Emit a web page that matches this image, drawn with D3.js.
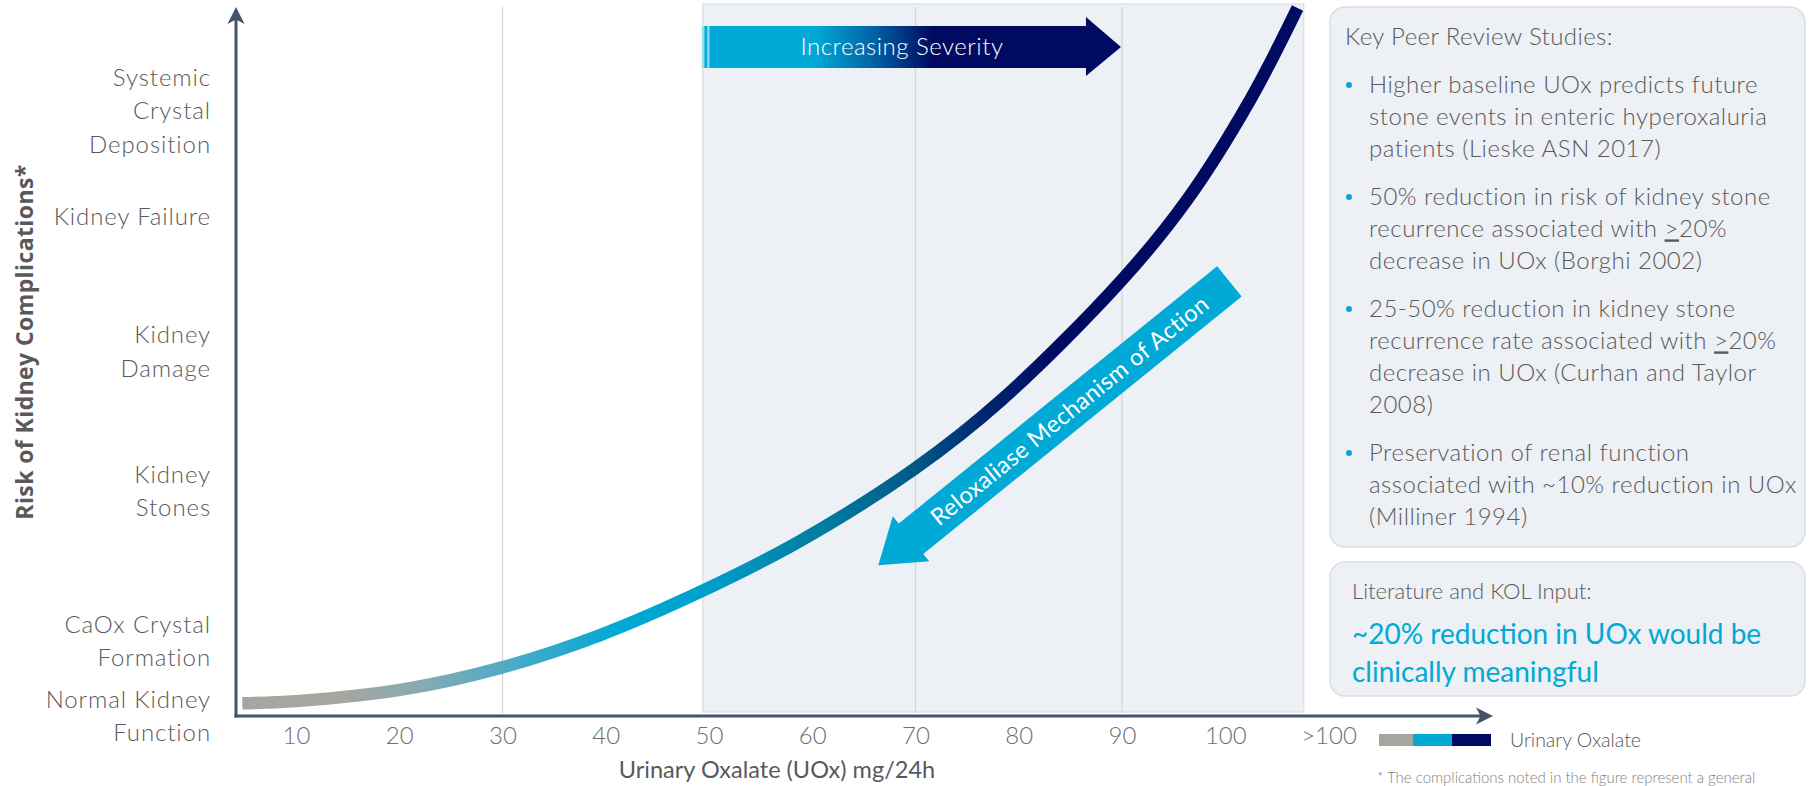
<!DOCTYPE html>
<html><head><meta charset="utf-8">
<script src="https://cdn.jsdelivr.net/npm/d3@7"></script>
<style>
html,body{margin:0;padding:0;background:#fff;overflow:hidden;}
svg{display:block;}
</style></head><body>
<svg id="chart" width="1810" height="786"></svg>
<script>
// ---------- data ----------
const xTickValues = [10,20,30,40,50,60,70,80,90,100,110];
const xTickLabels = ["10","20","30","40","50","60","70","80","90","100",">100"];
const gridValues = [30,70,90];
const severityBand = [49.4,107.6];
const severityArrow = [49.3,89.9];
const curveUOx  = [4.8, 10, 20.5, 29.8, 39.4, 49.4, 58.8, 69.9, 78.3, 90, 96.3, 102.4, 107];
const curveRisk = [1.8, 2.1, 3.8, 6.8, 11.4, 17.7, 24.7, 34.9, 44.6, 61.6, 72.9, 87.0, 100];
const riskLabels = [["Systemic","Crystal","Deposition"],["Kidney Failure"],["Kidney","Damage"],["Kidney","Stones"],["CaOx Crystal","Formation"],["Normal Kidney","Function"]];
const riskLabelLevels = [85.5,70.5,51.5,31.8,10.6,0];
const moaTail = [100.4, 61.4];
const moaTip  = [66.4, 21.3];
const legendColors = ["#A6A6A0","#00A9D6","#000A60"];
const studies = [
  ["Higher baseline UOx predicts future","stone events in enteric hyperoxaluria","patients (Lieske ASN 2017)"],
  ["50% reduction in risk of kidney stone","recurrence associated with |>|20%","decrease in UOx (Borghi 2002)"],
  ["25-50% reduction in kidney stone","recurrence rate associated with |>|20%","decrease in UOx (Curhan and Taylor","2008)"],
  ["Preservation of renal function","associated with ~10% reduction in UOx","(Milliner 1994)"]
];
const kolLines = ["~20% reduction in UOx would be","clinically meaningful"];

// ---------- setup ----------
const svg = d3.select("#chart");
const FONT = "Lato, 'Open Sans', sans-serif";
const axisColor = "#44546A";
const cyan = "#00A9D6", navy = "#000A60", gray = "#A6A6A0";
const x = d3.scaleLinear().domain([10,90]).range([296,1122]);
const y = d3.scaleLinear().domain([0,100]).range([716,8]);
const defs = svg.append("defs");

// severity band
svg.append("rect")
  .attr("x", x(severityBand[0])).attr("y", 4)
  .attr("width", x(severityBand[1]) - x(severityBand[0])).attr("height", 708)
  .attr("fill", "#EDF0F4").attr("stroke", "#DEE2E7").attr("stroke-width", 1.5);

// gridlines
svg.selectAll("line.grid").data(gridValues).enter().append("line")
  .attr("class","grid")
  .attr("x1", d => x(d)).attr("x2", d => x(d))
  .attr("y1", 7).attr("y2", 713)
  .attr("stroke", "#D2D5D9").attr("stroke-width", 1.3);

// Increasing severity arrow
const sg = defs.append("linearGradient").attr("id","sevGrad")
  .attr("gradientUnits","userSpaceOnUse")
  .attr("x1", x(severityArrow[0])).attr("x2", x(severityArrow[1])).attr("y1",0).attr("y2",0);
[[0,"#9ADCEF"],[0.006,"#9ADCEF"],[0.007,cyan],[0.012,cyan],[0.013,"#7fd3ea"],[0.018,"#7fd3ea"],[0.019,cyan],[0.27,cyan],[0.40,"#0068AA"],[0.55,navy],[1,navy]]
  .forEach(s => sg.append("stop").attr("offset", s[0]).attr("stop-color", s[1]));
{
  const x0 = x(severityArrow[0]), xt = x(severityArrow[1]), xb = xt - 35;
  const yc = 47;
  svg.append("path")
    .attr("d", `M${x0},${yc-21}L${xb},${yc-21}L${xb},${yc-30}L${xt},${yc}L${xb},${yc+29}L${xb},${yc+21}L${x0},${yc+21}Z`)
    .attr("fill","url(#sevGrad)");
  svg.append("text").attr("x", 902).attr("y", yc).attr("dy","0.35em")
    .attr("text-anchor","middle").attr("fill","#fff")
    .style("font-family",FONT).style("font-weight",300).style("font-size","24px").style("letter-spacing","0.5px")
    .text("Increasing Severity");
}

// curve
const cg = defs.append("linearGradient").attr("id","curveGrad")
  .attr("gradientUnits","userSpaceOnUse")
  .attr("x1", x(curveUOx[0])).attr("x2", x(curveUOx[curveUOx.length-1])).attr("y1",0).attr("y2",0);
[[0,gray],[0.093,gray],[0.17,"#86AAB2"],[0.244,"#55AAC4"],[0.357,cyan],[0.433,"#00A0CD"],[0.556,"#007A9F"],[0.635,"#005A8A"],[0.707,"#002470"],[0.773,navy],[1,navy]]
  .forEach(s => cg.append("stop").attr("offset", s[0]).attr("stop-color", s[1]));
const curveData = curveUOx.map((v,i) => [v, curveRisk[i]]);
svg.append("path")
  .datum(curveData)
  .attr("d", d3.line().x(d => x(d[0])).y(d => y(d[1])).curve(d3.curveCatmullRom.alpha(0.5)))
  .attr("fill","none").attr("stroke","url(#curveGrad)").attr("stroke-width",12.5).attr("stroke-linecap","butt");

// MoA arrow
{
  const tx = x(moaTail[0]), ty = y(moaTail[1]);
  const px = x(moaTip[0]), py = y(moaTip[1]);
  const len = Math.hypot(px-tx, py-ty);
  const ux = (px-tx)/len, uy = (py-ty)/len;
  const nx = -uy, ny = ux;
  const bw = 19.5, hw = 29, hl = 42;
  const bx = px - ux*hl, by = py - uy*hl;
  const pts = [
    [tx+nx*bw, ty+ny*bw],[bx+nx*bw, by+ny*bw],[bx+nx*hw, by+ny*hw],[px,py],
    [bx-nx*hw, by-ny*hw],[bx-nx*bw, by-ny*bw],[tx-nx*bw, ty-ny*bw]
  ];
  svg.append("path").attr("d", "M" + pts.map(p => p.join(",")).join("L") + "Z").attr("fill", cyan);
  const ang = Math.atan2(ty-py, tx-px) * 180/Math.PI;
  const cx = px - ux*246, cy = py - uy*246;
  svg.append("text")
    .attr("transform", `translate(${cx},${cy}) rotate(${ang})`)
    .attr("text-anchor","middle").attr("dy","0.35em").attr("fill","#fff")
    .style("font-family",FONT).style("font-weight",400).style("font-size","23.5px").style("letter-spacing","0.4px")
    .text("Reloxaliase Mechanism of Action");
}

// axes lines + arrowheads
svg.append("line").attr("x1",236).attr("x2",236).attr("y1",717.5).attr("y2",16)
  .attr("stroke",axisColor).attr("stroke-width",3);
svg.append("line").attr("x1",234.5).attr("x2",1484).attr("y1",716).attr("y2",716)
  .attr("stroke",axisColor).attr("stroke-width",3);
svg.append("path").attr("d","M236,7L227.5,24L236,19.5L244.5,24Z").attr("fill",axisColor);
svg.append("path").attr("d","M1493,716L1476,707.5L1480.5,716L1476,724.5Z").attr("fill",axisColor);

// x tick labels via axis
const xAxis = d3.axisBottom(x).tickValues(xTickValues)
  .tickFormat((d,i) => xTickLabels[i]).tickSize(0).tickPadding(0);
const gx = svg.append("g").attr("transform","translate(0,727)").call(xAxis);
gx.select(".domain").remove();
gx.selectAll("text").attr("fill","#6E6E6E").attr("dy","0.71em")
  .style("font-family",FONT).style("font-weight",300).style("font-size","24px");

// y category labels
const lh = 33.5;
riskLabels.forEach((lines,i) => {
  const cy = y(riskLabelLevels[i]);
  const t = svg.append("text").attr("text-anchor","end").attr("fill","#595959")
    .style("font-family",FONT).style("font-weight",300).style("font-size","24px").style("letter-spacing","0.9px");
  lines.forEach((ln,j) => {
    t.append("tspan").attr("x",211).attr("y", cy + (j - (lines.length-1)/2)*lh).attr("dy","0.35em").text(ln);
  });
});

// axis titles
svg.append("text").attr("transform","translate(25,342) rotate(-90)")
  .attr("text-anchor","middle").attr("dy","0.35em").attr("fill","#595959")
  .style("font-family","'Open Sans', sans-serif").style("font-weight",700).style("font-size","23px").style("letter-spacing","0.4px")
  .text("Risk of Kidney Complications*");
svg.append("text").attr("x",777).attr("y",770).attr("dy","0.35em")
  .attr("text-anchor","middle").attr("fill","#595959")
  .style("font-family",FONT).style("font-weight",400).style("font-size","23.5px")
  .text("Urinary Oxalate (UOx) mg/24h");

// right panel 1
svg.append("rect").attr("x",1330).attr("y",7).attr("width",475).attr("height",540).attr("rx",15)
  .attr("fill","#EDF0F4").attr("stroke","#D9DEE4").attr("stroke-width",1.5);
svg.append("text").attr("x",1345).attr("y",37).attr("dy","0.35em").attr("fill","#595959")
  .style("font-family",FONT).style("font-weight",300).style("font-size","24px").style("letter-spacing","0.4px")
  .text("Key Peer Review Studies:");
{
  let yy = 85;
  studies.forEach(lines => {
    svg.append("circle").attr("cx",1349).attr("cy",yy).attr("r",3).attr("fill",cyan);
    lines.forEach(ln => {
      const t = svg.append("text").attr("x",1369).attr("y",yy).attr("dy","0.35em").attr("fill","#595959")
        .style("font-family",FONT).style("font-weight",300).style("font-size","24px").style("letter-spacing","0.5px");
      ln.split("|").forEach((part,k) => {
        const sp = t.append("tspan").text(part);
        if (k === 1) sp.style("text-decoration","underline");
      });
      yy += 32;
    });
    yy += 16;
  });
}

// right panel 2
svg.append("rect").attr("x",1330).attr("y",562).attr("width",475).attr("height",134).attr("rx",15)
  .attr("fill","#EDF0F4").attr("stroke","#D9DEE4").attr("stroke-width",1.5);
svg.append("text").attr("x",1352).attr("y",591).attr("dy","0.35em").attr("fill","#595959")
  .style("font-family",FONT).style("font-weight",300).style("font-size","22px")
  .text("Literature and KOL Input:");
kolLines.forEach((ln,i) => {
  svg.append("text").attr("x",1352).attr("y",634 + i*38).attr("dy","0.35em").attr("fill",cyan)
    .style("font-family",FONT).style("font-weight",400).style("font-size","28px")
    .text(ln);
});

// legend
{
  const lx = 1379, segW = [34,39,39];
  let cx = lx;
  legendColors.forEach((c,i) => {
    svg.append("rect").attr("x",cx).attr("y",734).attr("width",segW[i]).attr("height",12).attr("fill",c);
    cx += segW[i];
  });
  svg.append("text").attr("x",1510).attr("y",740).attr("dy","0.35em").attr("fill","#595959")
    .style("font-family",FONT).style("font-weight",300).style("font-size","19.5px")
    .text("Urinary Oxalate");
}

// footnote
svg.append("text").attr("x",1377).attr("y",778).attr("dy","0.35em").attr("fill","#7F7F7F")
  .style("font-family",FONT).style("font-weight",300).style("font-size","15px")
  .text("* The complications noted in the figure represent a general");
</script>
</body></html>
